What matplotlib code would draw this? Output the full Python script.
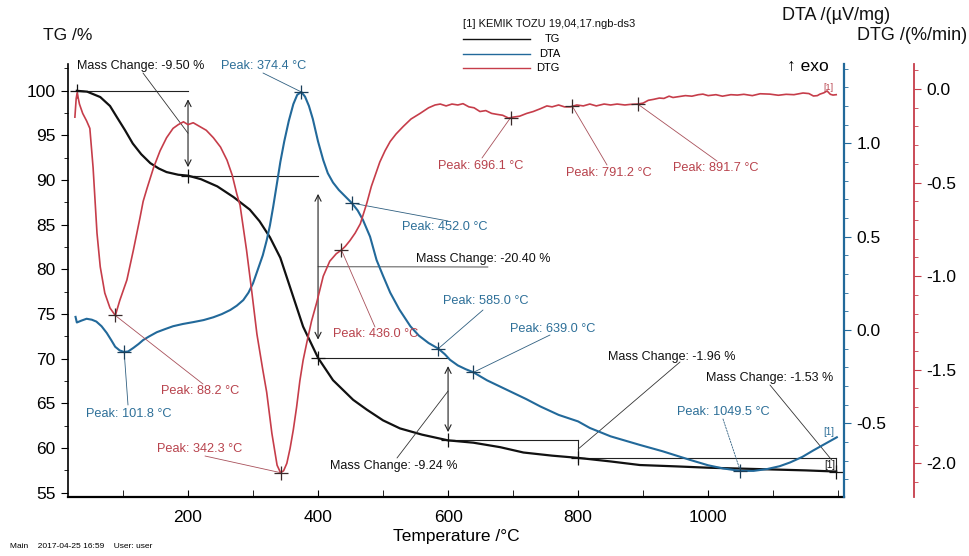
import numpy as np
import matplotlib
matplotlib.use('Agg')
import matplotlib.pyplot as plt
from matplotlib.ticker import MultipleLocator

plt.rcParams['font.family'] = ['Liberation Sans', 'DejaVu Sans']
plt.rcParams['axes.unicode_minus'] = False

# --- data ---
tg_temp = [29, 45, 65, 80, 91, 103, 115, 128, 142, 155, 167, 185, 200, 220, 245,
           270, 295, 310, 326, 342, 357, 377, 400, 423, 454, 475, 500, 526, 560,
           600, 639, 680, 716, 760, 800, 850, 895, 950, 1000, 1050, 1100, 1150, 1197]
tg_mass = [100.0, 99.9, 99.3, 98.3, 97.0, 95.6, 94.1, 92.9, 91.9, 91.3, 90.9, 90.6,
           90.5, 90.1, 89.3, 88.1, 86.7, 85.4, 83.6, 81.3, 78.0, 73.6, 70.1, 67.6,
           65.4, 64.3, 63.1, 62.2, 61.5, 60.86, 60.6, 60.1, 59.5, 59.15, 58.9, 58.5,
           58.1, 57.95, 57.8, 57.7, 57.6, 57.5, 57.37]

dta_temp = [27, 29, 36, 44, 52, 59, 67, 75, 82, 88, 95, 101.8, 108, 116, 124, 131,
            140, 152, 165, 177, 192, 208, 224, 239, 252, 265, 275, 285, 293, 300,
            308, 315, 321, 326, 331, 337, 342, 348, 355, 362, 368, 374.4, 380, 386,
            392, 400, 408, 415, 423, 432, 442, 452, 461, 469, 480, 490, 500, 511,
            525, 542, 555, 570, 585, 595, 603, 615, 627, 639, 660, 690, 720, 742,
            770, 800, 818, 850, 895, 930, 972, 1000, 1023, 1049.5, 1070, 1091, 1110,
            1126, 1145, 1162, 1180, 1198]
dta_signal = [0.07, 0.04, 0.05, 0.06, 0.055, 0.045, 0.02, -0.016, -0.055, -0.09,
              -0.11, -0.118, -0.115, -0.096, -0.075, -0.054, -0.035, -0.012, 0.005,
              0.02, 0.032, 0.042, 0.053, 0.068, 0.085, 0.107, 0.13, 0.16, 0.2, 0.25,
              0.33, 0.40, 0.48, 0.56, 0.66, 0.79, 0.90, 1.01, 1.12, 1.21, 1.26, 1.275,
              1.25, 1.2, 1.13, 1.01, 0.91, 0.84, 0.79, 0.75, 0.715, 0.68, 0.64, 0.59,
              0.5, 0.375, 0.29, 0.2, 0.11, 0.02, -0.03, -0.07, -0.10, -0.13, -0.16,
              -0.19, -0.21, -0.227, -0.27, -0.32, -0.37, -0.41, -0.455, -0.49,
              -0.525, -0.57, -0.616, -0.65, -0.696, -0.725, -0.742, -0.755, -0.755,
              -0.745, -0.73, -0.71, -0.68, -0.645, -0.61, -0.575]

dtg_temp = [26, 28, 29.5, 33, 38, 44, 49, 54, 57, 60, 65, 72, 80, 88.2, 95, 106,
            116, 126, 131, 137, 147, 157, 167, 177, 185, 193, 200, 208, 218, 228,
            239, 250, 260, 268, 275, 280, 290, 298, 306, 315, 321, 329, 337, 342.3,
            347, 352, 357, 362, 367, 372, 377, 383, 390, 398, 408, 418, 428, 436,
            442, 449, 457, 465, 475, 482, 488, 495, 503, 511, 520, 531, 543, 557,
            570, 580, 588, 597, 606, 615, 623, 632, 640, 649, 658, 667, 675, 684,
            693, 700, 710, 721, 731, 742, 752, 760, 770, 779, 788, 798, 808, 818,
            828, 840, 850, 860, 872, 880, 891.7, 900, 908, 916, 925, 932, 940, 946,
            955, 965, 975, 985, 992, 1000, 1012, 1022, 1035, 1045, 1055, 1068, 1080,
            1095, 1108, 1120, 1132, 1146, 1155, 1162, 1168, 1172, 1178, 1183, 1188,
            1192, 1197]
dtg_rate = [-0.15, -0.05, -0.02, -0.08, -0.13, -0.17, -0.21, -0.42, -0.60, -0.77,
            -0.95, -1.09, -1.17, -1.21, -1.13, -1.02, -0.86, -0.69, -0.60, -0.53,
            -0.42, -0.33, -0.26, -0.21, -0.19, -0.175, -0.19, -0.18, -0.20, -0.22,
            -0.26, -0.31, -0.38, -0.46, -0.56, -0.62, -0.86, -1.08, -1.31, -1.50,
            -1.62, -1.84, -2.01, -2.05, -2.04, -2.0, -1.92, -1.82, -1.70, -1.56,
            -1.45, -1.35, -1.24, -1.14, -1.0, -0.92, -0.88, -0.86, -0.84, -0.81,
            -0.77, -0.72, -0.61, -0.52, -0.46, -0.39, -0.33, -0.28, -0.24, -0.2,
            -0.16, -0.13, -0.10, -0.085, -0.08, -0.09, -0.08, -0.085, -0.078,
            -0.095, -0.1, -0.12, -0.115, -0.13, -0.135, -0.14, -0.155, -0.15,
            -0.145, -0.13, -0.12, -0.105, -0.09, -0.095, -0.085, -0.095, -0.095,
            -0.085, -0.09, -0.08, -0.09, -0.08, -0.085, -0.08, -0.085, -0.082,
            -0.08, -0.075, -0.06, -0.055, -0.048, -0.05, -0.038, -0.045, -0.04,
            -0.035, -0.038, -0.03, -0.027, -0.035, -0.03, -0.038, -0.03, -0.032,
            -0.028, -0.035, -0.025, -0.027, -0.033, -0.028, -0.03, -0.021, -0.024,
            -0.037, -0.035, -0.027, -0.02, -0.01, -0.028, -0.032, -0.03]

step_temps = [29, 200, 400, 600, 800, 1197]
mass_change = ['-9.50', '-20.40', '-9.24', '-1.96', '-1.53']
dta_peaks = [101.8, 374.4, 452.0, 585.0, 639.0, 1049.5]
dtg_peaks = [88.2, 342.3, 436.0, 696.1, 791.2, 891.7]

BLACK = '#111111'
BLUE = '#22699a'
RED = '#c63d4a'
BLUE_TXT = '#2d6f98'
RED_TXT = '#b8434d'

W, H = 970, 556


def fx(x):
    return x / W


def fy(y):
    return 1 - y / H


fig = plt.figure(figsize=(W / 100, H / 100), dpi=100)
ax = fig.add_axes([fx(68), fy(497), 776 / W, 433 / H])
ax2 = ax.twinx()
ax3 = ax.twinx()

ax.plot(tg_temp, tg_mass, color=BLACK, lw=1.6, zorder=3)
ax2.plot(dta_temp, dta_signal, color=BLUE, lw=1.5)
ax3.plot(dtg_temp, dtg_rate, color=RED, lw=1.2)

ax.set_xlim(15.4, 1209)
ax.set_ylim(54.52, 103.0)
ax2.set_ylim(-0.895, 1.425)
ax3.set_ylim(-2.18, 0.134)

# axes / spines
for s in ['top', 'right']:
    ax.spines[s].set_visible(False)
ax.spines['left'].set_linewidth(1.2)
ax.spines['bottom'].set_linewidth(1.6)
ax.set_xticks([200, 400, 600, 800, 1000])
ax.xaxis.set_minor_locator(MultipleLocator(100))
ax.tick_params(axis='x', which='both', direction='in', length=5, labelsize=12.5, pad=9)
ax.set_yticks(np.arange(55, 101, 5))
ax.yaxis.set_minor_locator(MultipleLocator(2.5))
ax.tick_params(axis='y', which='major', length=5, labelsize=12.5, pad=4)
ax.tick_params(axis='y', which='minor', length=3)
ax.set_xlabel('Temperature /°C', fontsize=12.5, labelpad=3)

for a in (ax2, ax3):
    for s in ['top', 'left', 'bottom']:
        a.spines[s].set_visible(False)
ax2.spines['right'].set_color(BLUE)
ax2.spines['right'].set_linewidth(1.6)
ax2.set_yticks([-0.5, 0.0, 0.5, 1.0])
ax2.yaxis.set_minor_locator(MultipleLocator(0.1))
ax2.tick_params(axis='y', which='major', colors=BLUE, labelcolor='black', length=5,
                labelsize=12.5, pad=4)
ax2.tick_params(axis='y', which='minor', colors=BLUE, length=3)

ax3.spines['right'].set_position(('axes', 1.09))
ax3.spines['right'].set_color(RED)
ax3.spines['right'].set_linewidth(1.3)
ax3.set_yticks([-2.0, -1.5, -1.0, -0.5, 0.0])
ax3.yaxis.set_minor_locator(MultipleLocator(0.1))
ax3.tick_params(axis='y', which='major', colors=RED, labelcolor='black', length=5,
                labelsize=12.5, pad=4)
ax3.tick_params(axis='y', which='minor', colors=RED, length=3)

# --- mass change evaluation (TG) ---
step_mass = np.interp(step_temps, tg_temp, tg_mass)
ref_kw = dict(color='#222222', lw=0.8, zorder=2)
ax.plot([step_temps[0], step_temps[1]], [step_mass[0]] * 2, **ref_kw)
for i in range(1, 4):
    ax.plot([step_temps[i], step_temps[i + 1]], [step_mass[i]] * 2, **ref_kw)
ax.plot([step_temps[4], step_temps[5]], [step_mass[4]] * 2, **ref_kw)
ax.plot([step_temps[4]] * 2, [step_mass[3], step_mass[4] - 0.5], **ref_kw)
ax.plot([step_temps[5]] * 2, [step_mass[4], step_mass[5]], **ref_kw)
ax.plot(step_temps, step_mass, ls='none', marker='+', ms=10, mew=0.9, color=BLACK, zorder=4)

arrow_kw = dict(arrowstyle='<->', lw=0.8, color='#222222', shrinkA=0, shrinkB=0,
                mutation_scale=11)
for i in range(3):
    hi, lo = step_mass[i], step_mass[i + 1]
    gap = (hi - lo) * 0.1
    ax.annotate('', xy=(step_temps[i + 1], hi - gap), xytext=(step_temps[i + 1], lo + gap),
                arrowprops=arrow_kw)


def leader(a, xy, pix, color, ls='-'):
    a.annotate('', xy=xy, xytext=(fx(pix[0]), fy(pix[1])), textcoords='figure fraction',
               arrowprops=dict(arrowstyle='-', color=color, lw=0.6, ls=ls,
                               shrinkA=0, shrinkB=0))


def label(pix, s, color, size=9.2):
    fig.text(fx(pix[0]), fy(pix[1]), s, ha='left', va='center', fontsize=size, color=color)


mc_text = [(77, 66), (416, 259), (330, 466), (608, 357), (706, 378)]
mc_from = [(143, 73), (488, 267), (397, 458), (680, 362), (770, 385)]
mc_to_t = [200, 400, 600, 800, 1190]
mc_to_v = [(step_mass[0] + step_mass[1]) / 2, 80.3,
           (step_mass[2] + step_mass[3]) / 2 + 0.9, (step_mass[3] + step_mass[4]) / 2,
           step_mass[5] + 1.3]
for s, tp, fp, t, v in zip(mass_change, mc_text, mc_from, mc_to_t, mc_to_v):
    label(tp, f'Mass Change: {s} %', BLACK, size=9)
    leader(ax, (t, v), fp, '#333333')

# --- DTA peaks ---
dta_vals = np.interp(dta_peaks, dta_temp, dta_signal)
ax2.plot(dta_peaks, dta_vals, ls='none', marker='+', ms=10, mew=0.9, color='#1b3f5a', zorder=4)
dta_text = [(86, 414), (221, 66), (402, 227), (443, 301), (510, 329), (677, 412)]
dta_from = [(128, 405), (263, 73), (448, 221), (483, 310), (550, 335), (723, 419)]
for t, v, tp, fp in zip(dta_peaks, dta_vals, dta_text, dta_from):
    label(tp, f'Peak: {t:.1f} °C', BLUE_TXT)
    leader(ax2, (t, v), fp, '#2f5f80', ls=(0, (2, 1.5)) if t > 1000 else '-')

# --- DTG peaks ---
dtg_vals = np.interp(dtg_peaks, dtg_temp, dtg_rate)
ax3.plot(dtg_peaks, dtg_vals, ls='none', marker='+', ms=10, mew=0.9, color='#3a2a2a', zorder=4)
dtg_text = [(161, 391), (157, 449), (333, 334), (438, 166), (566, 173), (673, 168)]
dtg_from = [(203, 384), (205, 456), (375, 327), (482, 158), (607, 165), (717, 161)]
for t, v, tp, fp in zip(dtg_peaks, dtg_vals, dtg_text, dtg_from):
    label(tp, f'Peak: {t:.1f} °C', RED_TXT)
    leader(ax3, (t, v), fp, '#a8505a')

# curve end tags
label((823, 88), '[1]', RED_TXT, size=6.5)
label((823, 432), '[1]', BLUE_TXT, size=7)
label((824, 465), '[1]', BLACK, size=7)

# --- axis titles, legend, footer ---
label((43, 35), 'TG /%', BLACK, size=12.5)
label((782, 15), 'DTA /(µV/mg)', BLACK, size=13)
label((857, 36), 'DTG /(%/min)', BLACK, size=13)
fig.text(fx(829), fy(66), '↑ exo', ha='right', va='center', fontsize=12.5)

label((463, 24), '[1] KEMIK TOZU 19,04,17.ngb-ds3', BLACK, size=8)
for name, color, y in [('TG', BLACK, 39), ('DTA', BLUE, 54), ('DTG', RED, 68)]:
    fig.add_artist(plt.Line2D([fx(463), fx(530)], [fy(y), fy(y)], color=color, lw=1.0))
    fig.text(fx(560), fy(y), name, ha='right', va='center', fontsize=8)

fig.text(fx(10), fy(546), 'Main    2017-04-25 16:59    User: user', ha='left', va='center',
         fontsize=6)

fig.savefig('out.png', dpi=100)
